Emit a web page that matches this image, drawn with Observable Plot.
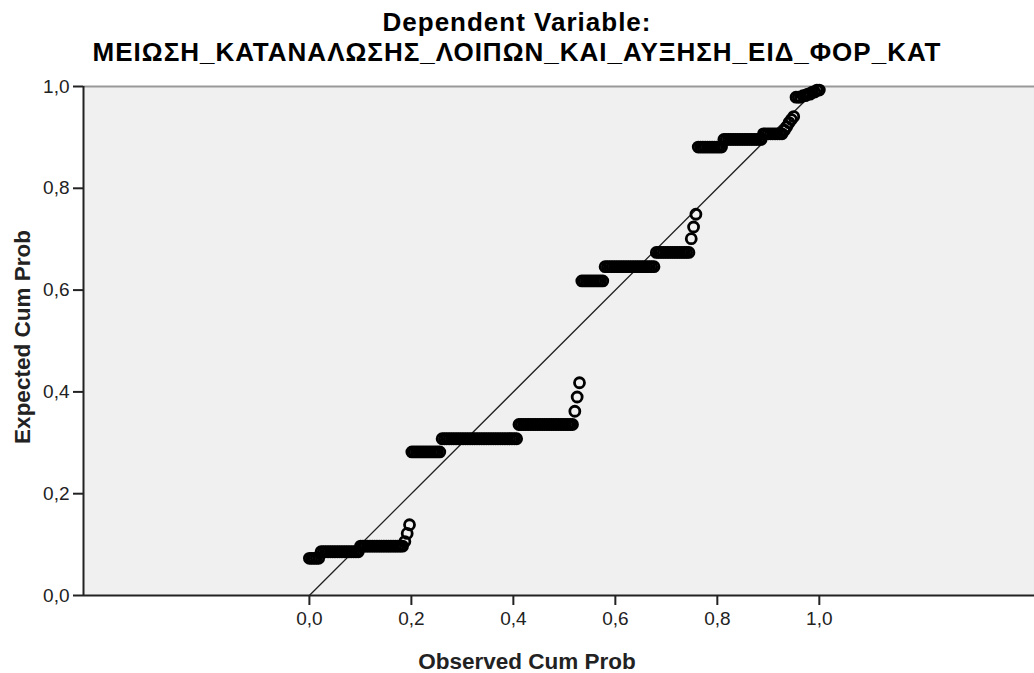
<!DOCTYPE html>
<html>
<head>
<meta charset="utf-8">
<script src="https://cdn.jsdelivr.net/npm/d3@7"></script>
<script src="https://cdn.jsdelivr.net/npm/@observablehq/plot@0.6"></script>
<style>
  html, body { margin: 0; padding: 0; background: white; }
  #title { height: 70px; padding-top: 7px; box-sizing: border-box; text-align: center;
           font-family: Arial, "Liberation Sans", sans-serif; font-size: 26px; font-weight: bold; letter-spacing: 1px;
           line-height: 30px; color: #000; white-space: nowrap; }
  #chart svg { display: block; }
</style>
</head>
<body>
<div id="title"></div>
<div id="chart"></div>
<script>
// ---- Data ----
const titleLines = ["Dependent Variable:", "ΜΕΙΩΣΗ_ΚΑΤΑΝΑΛΩΣΗΣ_ΛΟΙΠΩΝ_ΚΑΙ_ΑΥΞΗΣΗ_ΕΙΔ_ΦΟΡ_ΚΑΤ"];
const xLabel = "Observed Cum Prob";
const yLabel = "Expected Cum Prob";

// Distinct expected cumulative probabilities (in rank order) and number of cases at each
const expectedCumProb = [0.073, 0.086, 0.097, 0.106, 0.122, 0.139,
                         0.282, 0.308, 0.336, 0.362, 0.390, 0.418,
                         0.618, 0.646, 0.674, 0.701, 0.724, 0.749,
                         0.881, 0.896, 0.907, 0.914, 0.921, 0.929, 0.935, 0.941,
                         0.979, 0.982, 0.985, 0.989, 0.993];
const caseCount = [5, 17, 19, 1, 1, 1,
                   13, 33, 24, 1, 1, 1,
                   10, 22, 15, 1, 1, 1,
                   11, 17, 9, 1, 1, 1, 1, 1,
                   3, 2, 2, 2, 2];

const xTicks = [0, 0.2, 0.4, 0.6, 0.8, 1.0];
const yTicks = [0, 0.2, 0.4, 0.6, 0.8, 1.0];
const refLine = [0, 1];
const xDomain = [-0.443, 1.422];
const yDomain = [0, 1];

// Build cases: observed cum prob is the case's rank position among all cases
const N = d3.sum(caseCount);
const cases = [];
let rank = 0;
expectedCumProb.forEach((e, k) => {
  for (let j = 0; j < caseCount[k]; j++) {
    cases.push({observed: rank / (N - 1), expected: e});
    rank++;
  }
});

const fmt = d => d.toFixed(1).replace(".", ",");

document.getElementById("title").innerHTML = titleLines.map(t => `<div>${t}</div>`).join("");

const chart = Plot.plot({
  width: 1034,
  height: 603,
  marginTop: 16,
  marginBottom: 78,
  marginLeft: 83,
  marginRight: 0,
  style: {fontFamily: "Arial, 'Liberation Sans', sans-serif", fontSize: "19px", color: "#222", background: "white", overflow: "visible"},
  x: {domain: xDomain},
  y: {domain: yDomain},
  marks: [
    Plot.frame({fill: "#f0f0f0", stroke: null}),
    Plot.ruleY([yDomain[1]], {stroke: "#999", strokeWidth: 2}),
    Plot.line(refLine, {x: d => d, y: d => d, stroke: "#222", strokeWidth: 1.3}),
    Plot.dot(cases, {x: "observed", y: "expected", r: 5, stroke: "black", strokeWidth: 2.8, fill: "none"}),
    Plot.ruleX([xDomain[0]], {stroke: "#222", strokeWidth: 2}),
    Plot.ruleY([yDomain[0]], {stroke: "#222", strokeWidth: 2}),
    Plot.axisX(xTicks, {tickSize: 10, tickPadding: 6, tickFormat: fmt, label: null, fontSize: 19, strokeWidth: 2}),
    Plot.axisY(yTicks, {tickSize: 10, tickPadding: 4, tickFormat: fmt, label: null, fontSize: 19, strokeWidth: 2}),
    Plot.text([xLabel], {frameAnchor: "bottom", textAnchor: "middle", lineAnchor: "middle", dx: -32, dy: 66, fontWeight: "bold", fontSize: 22.5, fill: "#222"}),
    Plot.text([yLabel], {frameAnchor: "left", textAnchor: "middle", lineAnchor: "middle", dx: -61, dy: -4, rotate: -90, fontWeight: "bold", fontSize: 22.5, fill: "#222"})
  ]
});
document.getElementById("chart").appendChild(chart);
</script>
</body>
</html>
